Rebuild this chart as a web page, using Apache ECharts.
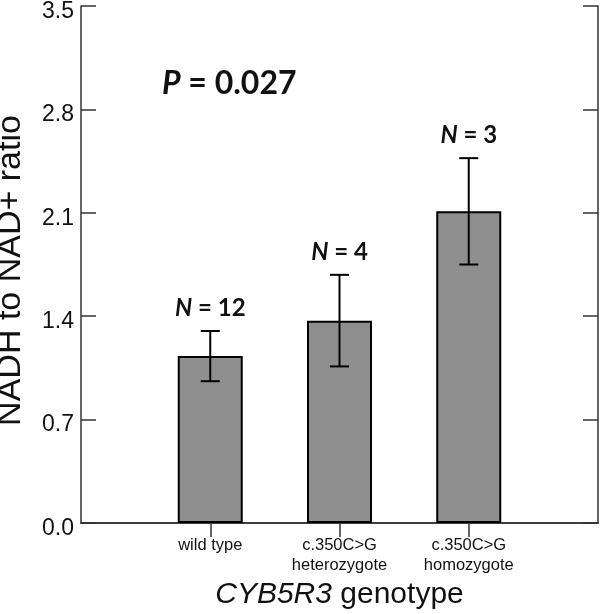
<!DOCTYPE html>
<html>
<head>
<meta charset="utf-8">
<script src="https://cdn.jsdelivr.net/npm/echarts@6/dist/echarts.min.js"></script>
<style>
html,body{margin:0;padding:0;background:#fff;}
#chart{width:600px;height:614px;}
</style>
</head>
<body>
<div id="chart"></div>
<script>
// ---- data ----
const categories = ['wild type', 'c.350C>G\nheterozygote', 'c.350C>G\nhomozygote'];
const means = [1.13, 1.37, 2.11];
const errors = [0.17, 0.31, 0.36];
const sampleSizes = [12, 4, 3];
const yMin = 0, yMax = 3.5, yInterval = 0.7;
const pValueText = '0.027';

// padded category axis so that bars sit at 1/4, 2/4, 3/4 of the width
const axisCats = [''].concat(categories).concat(['']);
const barData = ['-'].concat(means).concat(['-']);
const errData = means.map((m, i) => [i + 1, m - errors[i], m + errors[i], sampleSizes[i]]);

const chart = echarts.init(document.getElementById('chart'), null, {renderer: 'canvas'});
const axisColor = '#333';
const option = {
  backgroundColor: '#fff',
  animation: false,
  grid: {left: 81, right: 2, top: 6, bottom: 91, containLabel: false, outerBoundsMode: 'none'},
  xAxis: [{
    type: 'category',
    data: axisCats,
    boundaryGap: false,
    position: 'bottom',
    axisLine: {show: true, lineStyle: {color: axisColor, width: 1.5}},
    axisTick: {show: false},
    axisLabel: {interval: 0, color: '#111', fontFamily: 'Liberation Sans, Arial', fontSize: 16.5, lineHeight: 20, margin: 12},
    name: '{i|CYB5R3}{n| genotype}',
    nameLocation: 'middle',
    nameGap: 57,
    nameTextStyle: {
      rich: {
        i: {fontFamily: 'Liberation Sans, Arial', fontStyle: 'italic', fontSize: 30, color: '#111'},
        n: {fontFamily: 'Liberation Sans, Arial', fontSize: 30, color: '#111'}
      }
    }
  }, {
    type: 'category',
    data: axisCats,
    boundaryGap: false,
    position: 'top',
    axisLine: {show: true, lineStyle: {color: axisColor, width: 1.5}},
    axisTick: {show: true, inside: true, length: 14, interval: (i, v) => v !== '', lineStyle: {color: axisColor, width: 1.5}},
    axisLabel: {show: false}
  }],
  yAxis: [{
    type: 'value',
    min: yMin, max: yMax, interval: yInterval,
    position: 'left',
    axisLine: {show: true, lineStyle: {color: axisColor, width: 1.5}},
    axisTick: {show: true, inside: true, length: 15, lineStyle: {color: axisColor, width: 1.5}},
    splitLine: {show: false},
    axisLabel: {color: '#111', fontFamily: 'Liberation Sans, Arial', fontSize: 23, margin: 7, verticalAlign: 'top', lineHeight: 11, formatter: v => v.toFixed(1)},
    name: 'NADH to NAD+ ratio',
    nameLocation: 'middle',
    nameGap: 53,
    nameTextStyle: {fontFamily: 'Liberation Sans, Arial', fontSize: 34, color: '#111', padding: [0, 12, 0, 0]}
  }, {
    type: 'value',
    min: yMin, max: yMax, interval: yInterval,
    position: 'right',
    axisLine: {show: true, lineStyle: {color: axisColor, width: 1.5}},
    axisTick: {show: true, inside: true, length: 15, lineStyle: {color: axisColor, width: 1.5}},
    splitLine: {show: false},
    axisLabel: {show: false}
  }],
  graphic: [{
    type: 'text',
    left: 162,
    top: 68,
    style: {
      text: '{i|P}{b| = ' + pValueText + '}',
      rich: {
        i: {fontFamily: 'Lato', fontWeight: 'bold', fontStyle: 'italic', fontSize: 32, fill: '#111'},
        b: {fontFamily: 'Lato', fontWeight: 'bold', fontSize: 32, fill: '#111'}
      }
    }
  }],
  series: [{
    type: 'bar',
    data: barData,
    barWidth: 65,
    itemStyle: {color: '#8f8f8f', borderColor: '#000', borderWidth: 2}
  }, {
    type: 'custom',
    data: errData,
    z: 5,
    renderItem: function (params, api) {
      const idx = api.value(0);
      const lo = api.coord([idx, api.value(1)]);
      const hi = api.coord([idx, api.value(2)]);
      const n = api.value(3);
      const hw = 9.5;
      const ls = {stroke: '#000', lineWidth: 2};
      return {
        type: 'group',
        children: [
          {type: 'line', shape: {x1: hi[0], y1: hi[1], x2: lo[0], y2: lo[1]}, style: ls},
          {type: 'line', shape: {x1: hi[0] - hw, y1: hi[1], x2: hi[0] + hw, y2: hi[1]}, style: ls},
          {type: 'line', shape: {x1: lo[0] - hw, y1: lo[1], x2: lo[0] + hw, y2: lo[1]}, style: ls},
          {type: 'text', style: {
            x: hi[0], y: hi[1] - 11, align: 'center', verticalAlign: 'bottom',
            text: '{i|N}{b| = ' + n + '}',
            rich: {
              i: {fontFamily: 'Lato', fontWeight: 'bold', fontStyle: 'italic', fontSize: 24, fill: '#111'},
              b: {fontFamily: 'Lato', fontWeight: 'bold', fontSize: 24, fill: '#111'}
            }
          }}
        ]
      };
    }
  }]
};
chart.setOption(option);
</script>
</body>
</html>
